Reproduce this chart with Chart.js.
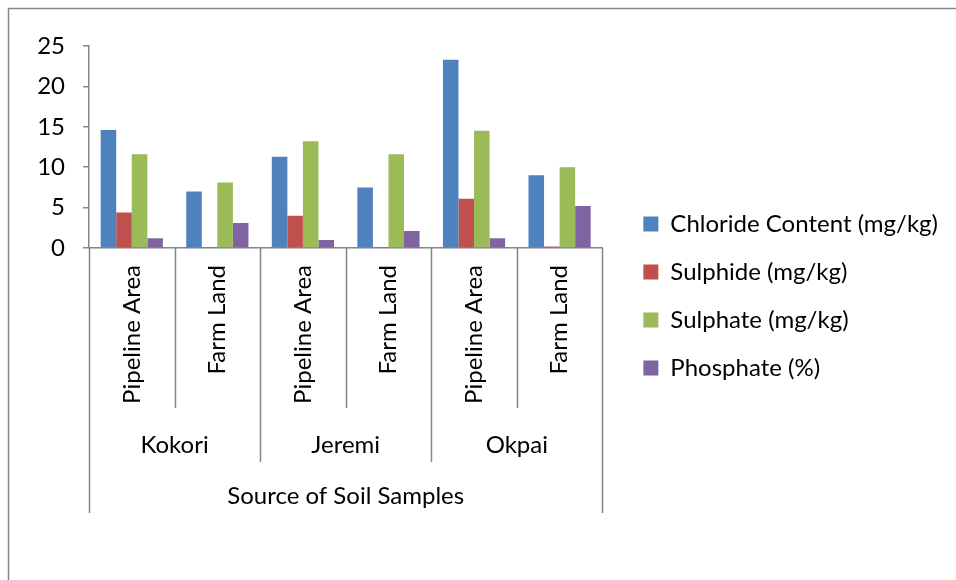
<!DOCTYPE html>
<html>
<head>
<meta charset="utf-8">
<title>Soil samples</title>
<script src="https://cdn.jsdelivr.net/npm/chart.js@4.4.1/dist/chart.umd.min.js"></script>
<style>
  body { margin: 0; background: #fff; }
  #wrap { width: 956px; height: 580px; }
</style>
</head>
<body>
<div id="wrap"><canvas id="soilChart" width="956" height="580"></canvas></div>
<script>
// === DATOS ===
const areaLabels = ['Pipeline Area', 'Farm Land', 'Pipeline Area', 'Farm Land', 'Pipeline Area', 'Farm Land'];
const siteLabels = ['Kokori', 'Jeremi', 'Okpai'];
const axisTitle = 'Source of Soil Samples';

const chloride = [14.6, 7.0, 11.3, 7.5, 23.3, 9.0];
const sulphide = [4.4, 0.05, 4.0, 0.05, 6.1, 0.2];
const sulphate = [11.6, 8.1, 13.2, 11.6, 14.5, 10.0];
const phosphate = [1.2, 3.1, 1.0, 2.1, 1.2, 5.2];

const yMin = 0;
const yMax = 25;
const yStep = 5;

// === ESTILO ===
const FONT = 'Lato, "Open Sans", sans-serif';
const FONT_SIZE = 24;
const AXIS_GRAY = '#868686';
const PAD_BOTTOM = 34;

// eje x de varios niveles (subcategoria / sitio / titulo) + marco exterior
const multiLevelAxis = {
    id: 'multiLevelAxis',
    beforeDraw(chart) {
        const ctx = chart.ctx;
        ctx.save();
        ctx.strokeStyle = AXIS_GRAY;
        ctx.lineWidth = 1.5;
        ctx.strokeRect(8.5, 8.5, chart.width + 20, chart.height + 20);
        ctx.restore();
    },
    afterDraw(chart) {
        const x = chart.scales.x;
        const ctx = chart.ctx;
        const base = x.top;
        const step = x.getPixelForValue(1) - x.getPixelForValue(0);
        const edge = i => x.getPixelForValue(i) - step / 2;
        const perSite = areaLabels.length / siteLabels.length;

        ctx.save();
        ctx.strokeStyle = AXIS_GRAY;
        ctx.lineWidth = 1.5;
        for (let i = 0; i <= areaLabels.length; i++) {
            let len = 160;
            if (i === 0 || i === areaLabels.length) len = 265;
            else if (i % perSite === 0) len = 214;
            const px = Math.round(edge(i)) + 0.5;
            ctx.beginPath();
            ctx.moveTo(px, base);
            ctx.lineTo(px, base + len);
            ctx.stroke();
        }

        ctx.fillStyle = '#000';
        ctx.font = FONT_SIZE + 'px ' + FONT;

        // etiquetas giradas
        areaLabels.forEach((lbl, i) => {
            const cx = x.getPixelForValue(i);
            ctx.save();
            ctx.translate(cx, base + 17);
            ctx.rotate(-Math.PI / 2);
            ctx.textAlign = 'right';
            ctx.textBaseline = 'middle';
            ctx.fillText(lbl, 0, 0);
            ctx.restore();
        });

        // sitios
        ctx.textAlign = 'center';
        ctx.textBaseline = 'middle';
        siteLabels.forEach((site, g) => {
            const cx = (edge(g * perSite) + edge((g + 1) * perSite)) / 2;
            ctx.fillText(site, cx, base + 197);
        });

        // titulo del eje
        ctx.fillText(axisTitle, (edge(0) + edge(areaLabels.length)) / 2, base + 248);
        ctx.restore();
    }
};

const ctx = document.getElementById('soilChart').getContext('2d');
new Chart(ctx, {
    type: 'bar',
    data: {
        labels: areaLabels,
        datasets: [
            { label: 'Chloride Content (mg/kg)', data: chloride, backgroundColor: '#4F81BD' },
            { label: 'Sulphide (mg/kg)', data: sulphide, backgroundColor: '#C0504D' },
            { label: 'Sulphate (mg/kg)', data: sulphate, backgroundColor: '#9BBB59' },
            { label: 'Phosphate (%)', data: phosphate, backgroundColor: '#8064A2' }
        ]
    },
    options: {
        responsive: false,
        animation: false,
        layout: { padding: { left: 20, top: 46, right: 8, bottom: PAD_BOTTOM } },
        datasets: {
            bar: { categoryPercentage: 0.727, barPercentage: 1.0, borderWidth: 0 }
        },
        scales: {
            x: {
                grid: { display: false },
                border: { display: true, color: AXIS_GRAY, width: 1.5 },
                ticks: { display: false },
                afterFit: s => { s.height = 580 - PAD_BOTTOM - 248; }
            },
            y: {
                min: yMin,
                max: yMax,
                ticks: {
                    stepSize: yStep,
                    color: '#000',
                    padding: 18,
                    font: { family: FONT, size: FONT_SIZE }
                },
                grid: { drawOnChartArea: false, drawTicks: true, tickLength: 6, color: AXIS_GRAY, lineWidth: 1.5 },
                border: { color: AXIS_GRAY, width: 1.5 },
                afterFit: s => { s.width = 89 - 20; }
            },
            spacer: {
                type: 'linear',
                position: 'right',
                grid: { display: false },
                border: { display: false },
                ticks: { display: false },
                afterFit: s => { s.width = 17; }
            }
        },
        plugins: {
            legend: {
                position: 'right',
                align: 'center',
                maxWidth: 420,
                labels: {
                    boxWidth: 15,
                    boxHeight: 15,
                    padding: 24,
                    color: '#000',
                    font: { family: FONT, size: FONT_SIZE }
                }
            },
            tooltip: { enabled: false }
        }
    },
    plugins: [multiLevelAxis]
});
</script>
</body>
</html>
